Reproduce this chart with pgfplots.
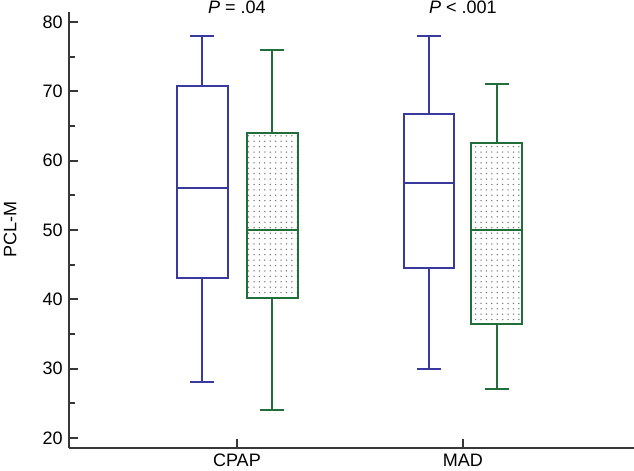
\documentclass[border=0pt]{standalone}
\usepackage{fontspec}
\setmainfont{Liberation Sans}
\usepackage{pgfplots}
\pgfplotsset{compat=1.18}
\usepgfplotslibrary{statistics}
\usetikzlibrary{patterns,calc}

\definecolor{boxblue}{RGB}{58,58,158}
\definecolor{boxgreen}{RGB}{34,110,58}
\definecolor{axisgray}{RGB}{55,55,55}

% sparse grey dots for the second group
\pgfdeclarepatternformonly{sparsedots}{\pgfpoint{-1pt}{-1pt}}{\pgfpoint{1pt}{1pt}}{\pgfpoint{3pt}{3pt}}%
  {\pgfpathcircle{\pgfpointorigin}{0.42pt}\pgfusepath{fill}}

\begin{document}
\begin{tikzpicture}
\begin{axis}[
    scale only axis,
    width=313.6pt, height=242pt,
    xmin=0.257, xmax=2.757,
    ymin=18.56, ymax=81.45,
    axis x line=bottom, axis y line=left,
    axis line style={-, axisgray, line width=1.1pt},
    xtick={1,2}, xticklabels={CPAP,MAD},
    ytick={20,30,...,80}, minor y tick num=1,
    tick align=inside,
    major tick length=5pt, minor tick length=3.3pt,
    tick style={axisgray, line width=1.1pt},
    ylabel={PCL-M},
    every axis y label/.style={at={(axis description cs:-0.104,0.5)}, rotate=90, anchor=center},
    /pgf/number format/assume math mode=true,
    clip=false,
    boxplot/draw direction=y,
]
% CPAP
\addplot[boxblue, line width=1.1pt, boxplot prepared={draw position=0.847,
    lower whisker=28, lower quartile=43, median=56, upper quartile=70.8, upper whisker=78,
    box extend=0.225, whisker extend=0.106}] coordinates {};
\addplot[boxgreen, line width=1.1pt,
    boxplot/every box/.style={pattern=sparsedots, pattern color=black!55},
    boxplot prepared={draw position=1.156,
    lower whisker=24, lower quartile=40.2, median=50, upper quartile=64, upper whisker=76,
    box extend=0.225, whisker extend=0.106}] coordinates {};
% MAD
\addplot[boxblue, line width=1.1pt, boxplot prepared={draw position=1.85,
    lower whisker=30, lower quartile=44.5, median=56.8, upper quartile=66.7, upper whisker=78,
    box extend=0.225, whisker extend=0.106}] coordinates {};
\addplot[boxgreen, line width=1.1pt,
    boxplot/every box/.style={pattern=sparsedots, pattern color=black!55},
    boxplot prepared={draw position=2.15,
    lower whisker=27, lower quartile=36.4, median=50, upper quartile=62.6, upper whisker=71,
    box extend=0.225, whisker extend=0.106}] coordinates {};

\node[anchor=base] at (axis cs:1,81.16) {\textit{P} = .04};
\node[anchor=base] at (axis cs:2,81.16) {\textit{P} < .001};
\end{axis}
\pgfresetboundingbox
\path ($(current axis.south west)+(-38.3pt,-12.8pt)$) rectangle ($(current axis.south west)+(313.6pt,248.6pt)$);
\end{tikzpicture}
\end{document}
